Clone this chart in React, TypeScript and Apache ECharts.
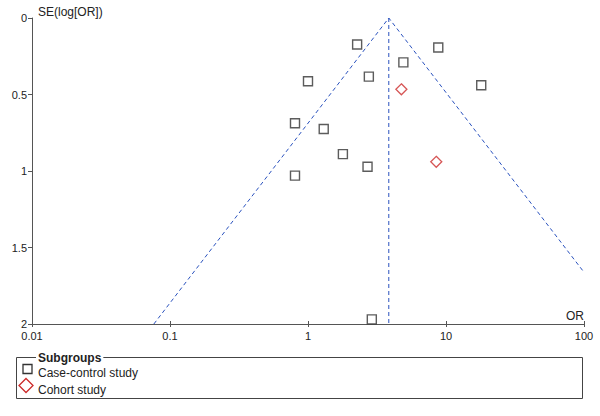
import React, { useEffect, useRef } from "react";
import * as echarts from "echarts";

const caseControlOR = [2.27, 8.79, 4.91, 1.0, 2.76, 18.0, 0.805, 1.3, 1.79, 2.7, 0.805, 2.9];
const caseControlSE = [0.173, 0.193, 0.29, 0.413, 0.383, 0.44, 0.688, 0.725, 0.89, 0.972, 1.03, 1.97];
const cohortOR = [4.75, 8.5];
const cohortSE = [0.466, 0.94];
const pooledOR = 3.85;
const xTicks = [0.01, 0.1, 1, 10, 100];
const yTicks = [0, 0.5, 1, 1.5, 2];
const legendNames = ["Case-control study", "Cohort study"];

const FONT = "Liberation Sans, Arial, sans-serif";

export default function App() {
  const ref = useRef<HTMLDivElement>(null);
  useEffect(() => {
    const chart = echarts.init(ref.current!, null, { renderer: "svg" });
    const seMax = yTicks[yTicks.length - 1];
    const xMin = xTicks[0];
    const xMax = xTicks[xTicks.length - 1];
    const z = 1.96;
    const leftEnd = pooledOR * Math.exp(-z * seMax);
    const rightSE = Math.log(xMax / pooledOR) / z;
    const funnel = [
      [leftEnd, seMax],
      [pooledOR, 0],
      [xMax, rightSE],
    ];
    const lineColor = "#2a52be";
    const axisColor = "#555";
    const baseX = {
      type: "log",
      logBase: 10,
      min: xMin,
      max: xMax,
      position: "bottom",
      splitLine: { show: false },
      minorTick: { show: false },
    };
    chart.setOption({
      animation: false,
      grid: { left: 32, right: 16, top: 18, bottom: 92 },
      xAxis: [
        {
          ...baseX,
          name: "OR",
          nameLocation: "end",
          nameGap: 0,
          nameTextStyle: {
            fontFamily: FONT,
            fontSize: 12,
            color: "#222",
            align: "right",
            verticalAlign: "bottom",
            padding: [0, 0, 2, 0],
          },
          axisLine: { onZero: false, lineStyle: { color: axisColor, width: 1 } },
          axisTick: { length: 3, lineStyle: { color: axisColor } },
          axisLabel: {
            fontFamily: FONT,
            fontSize: 11,
            color: "#222",
            margin: 6,
            formatter: (v: number) => String(v),
          },
        },
        {
          ...baseX,
          axisLine: { show: false, onZero: false },
          axisTick: { show: true, inside: true, length: 3, lineStyle: { color: axisColor } },
          axisLabel: { show: false },
        },
      ],
      yAxis: {
        type: "value",
        inverse: true,
        min: 0,
        max: seMax,
        interval: 0.5,
        name: "SE(log[OR])",
        nameLocation: "start",
        nameGap: 0,
        nameTextStyle: {
          fontFamily: FONT,
          fontSize: 12,
          color: "#222",
          align: "left",
          verticalAlign: "bottom",
          padding: [0, 0, 0, 6],
        },
        axisLine: { show: true, onZero: false, lineStyle: { color: axisColor, width: 1 } },
        axisTick: { show: true, length: 4, lineStyle: { color: axisColor } },
        axisLabel: {
          fontFamily: FONT,
          fontSize: 11,
          color: "#222",
          margin: 5,
          formatter: (v: number) => String(v),
        },
        splitLine: { show: false },
      },
      series: [
        {
          type: "line",
          data: funnel,
          symbol: "none",
          lineStyle: { color: lineColor, width: 1, type: [4, 3] },
          silent: true,
          z: 1,
        },
        {
          type: "line",
          data: [
            [pooledOR, 0],
            [pooledOR, seMax],
          ],
          symbol: "none",
          lineStyle: { color: lineColor, width: 1, type: [4, 3] },
          silent: true,
          z: 1,
        },
        {
          name: legendNames[0],
          type: "scatter",
          data: caseControlOR.map((v, i) => [v, caseControlSE[i]]),
          symbol: "rect",
          symbolSize: 9,
          itemStyle: { color: "rgba(0,0,0,0)", borderColor: "#333", borderWidth: 1.4 },
          z: 3,
        },
        {
          name: legendNames[1],
          type: "scatter",
          data: cohortOR.map((v, i) => [v, cohortSE[i]]),
          symbol: "diamond",
          symbolSize: 11,
          itemStyle: { color: "rgba(0,0,0,0)", borderColor: "#cc2a2a", borderWidth: 1.3 },
          z: 3,
        },
      ],
      graphic: [
        {
          type: "rect",
          shape: { x: 16.5, y: 357.5, width: 566, height: 41 },
          style: { fill: "none", stroke: "#444", lineWidth: 1 },
        },
        {
          type: "text",
          x: 36,
          y: 358,
          style: {
            text: "Subgroups",
            font: `bold 12px ${FONT}`,
            fill: "#222",
            backgroundColor: "#fff",
            padding: [0, 2, 0, 2],
            verticalAlign: "middle",
          },
        },
        {
          type: "rect",
          shape: { x: 23, y: 364.5, width: 9, height: 9 },
          style: { fill: "none", stroke: "#333", lineWidth: 1.3 },
        },
        {
          type: "text",
          x: 38,
          y: 373,
          style: { text: legendNames[0], font: `12px ${FONT}`, fill: "#222", verticalAlign: "middle" },
        },
        {
          type: "polygon",
          shape: {
            points: [
              [26, 378.5],
              [33, 385.5],
              [26, 392.5],
              [19, 385.5],
            ],
          },
          style: { fill: "none", stroke: "#cc2a2a", lineWidth: 1.3 },
        },
        {
          type: "text",
          x: 38,
          y: 389.5,
          style: { text: legendNames[1], font: `12px ${FONT}`, fill: "#222", verticalAlign: "middle" },
        },
      ],
    });
    return () => chart.dispose();
  }, []);
  return (
    <div
      ref={ref}
      style={{ width: 600, height: 416, position: "absolute", left: 0, top: 0, background: "#fff" }}
    />
  );
}
